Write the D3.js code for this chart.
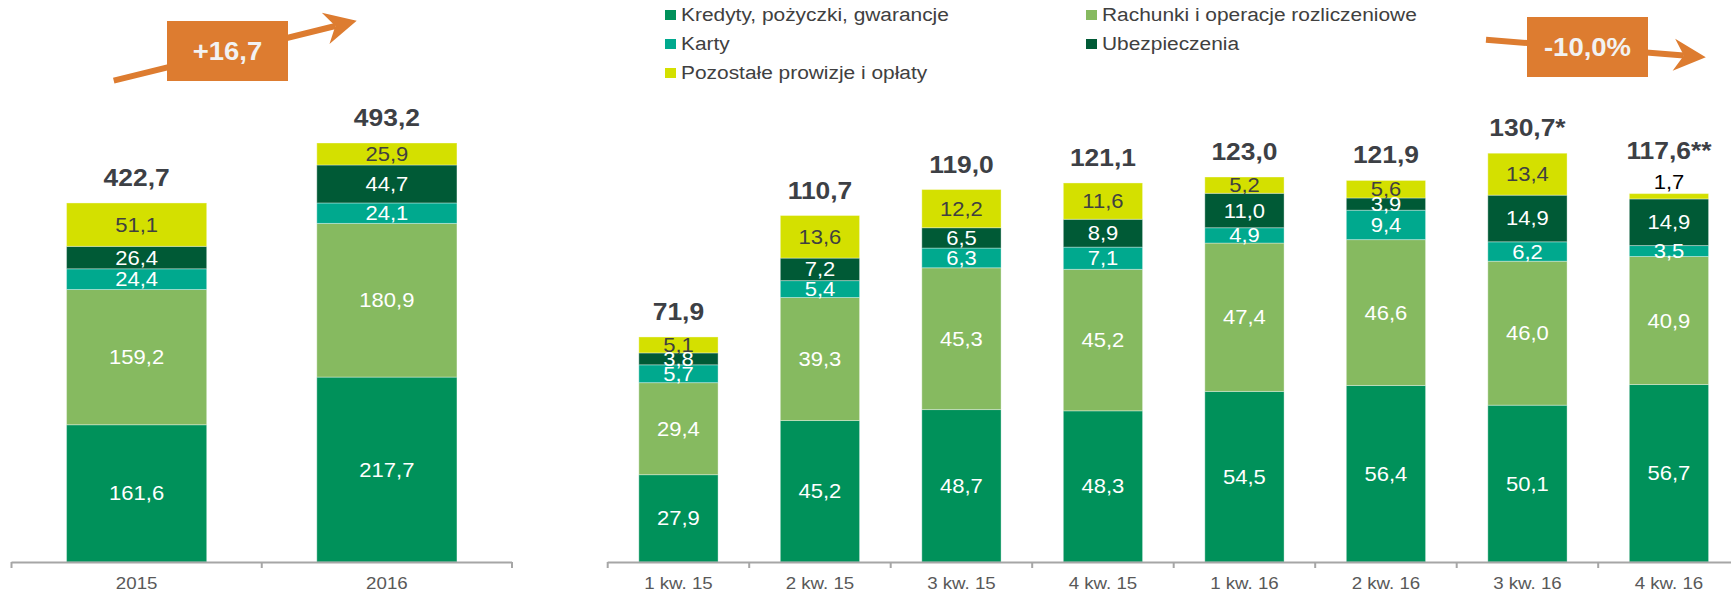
<!DOCTYPE html>
<html>
<head>
<meta charset="utf-8">
<script src="https://cdnjs.cloudflare.com/ajax/libs/d3/7.8.5/d3.min.js"></script>
<style>
body { margin: 0; background: #fff; }
text { font-family: "Liberation Sans", Arial, sans-serif; }
</style>
</head>
<body>
<svg width="1731" height="592"></svg>
<script>
var keys = ["Kredyty, pożyczki, gwarancje", "Rachunki i operacje rozliczeniowe", "Karty", "Ubezpieczenia", "Pozostałe prowizje i opłaty"];
var colors = ["#00915a", "#86ba60", "#00a98e", "#005a36", "#d4e000"];

// roczne
var years = ["2015", "2016"];
var yearKredyty = [161.6, 217.7];
var yearRachunki = [159.2, 180.9];
var yearKarty = [24.4, 24.1];
var yearUbezp = [26.4, 44.7];
var yearPozostale = [51.1, 25.9];
var yearTotals = ["422,7", "493,2"];

// kwartalne
var quarters = ["1 kw. 15", "2 kw. 15", "3 kw. 15", "4 kw. 15", "1 kw. 16", "2 kw. 16", "3 kw. 16", "4 kw. 16"];
var qKredyty = [27.9, 45.2, 48.7, 48.3, 54.5, 56.4, 50.1, 56.7];
var qRachunki = [29.4, 39.3, 45.3, 45.2, 47.4, 46.6, 46.0, 40.9];
var qKarty = [5.7, 5.4, 6.3, 7.1, 4.9, 9.4, 6.2, 3.5];
var qUbezp = [3.8, 7.2, 6.5, 8.9, 11.0, 3.9, 14.9, 14.9];
var qPozostale = [5.1, 13.6, 12.2, 11.6, 5.2, 5.6, 13.4, 1.7];
var qTotals = ["71,9", "110,7", "119,0", "121,1", "123,0", "121,9", "130,7*", "117,6**"];

var STRETCH = 1.1;
var fmt = function(v) { return d3.format(".1f")(v).replace(".", ","); };

var svg = d3.select("svg");

function place(sel, x, y) {
    sel.attr("transform", function(d, i) {
        var xx = typeof x === "function" ? x(d, i) : x;
        var yy = typeof y === "function" ? y(d, i) : y;
        return "translate(" + xx + "," + yy + ") scale(" + STRETCH + ",1)";
    });
}

function drawPanel(cats, values, totals, xRange, y) {
    var x = d3.scaleBand().domain(cats).range(xRange).paddingInner(0.44).paddingOuter(0.22);

    var rows = cats.map(function(c, i) {
        var r = {cat: c, idx: i};
        keys.forEach(function(k, j) { r[k] = values[j][i]; });
        return r;
    });
    var stacked = d3.stack().keys(keys)(rows);

    var g = svg.append("g");

    var layer = g.selectAll("g.layer")
                 .data(stacked)
                 .enter().append("g")
                 .attr("class", "layer")
                 .attr("fill", function(d, i) { return colors[i]; });

    layer.selectAll("rect")
         .data(function(d) { return d; })
         .enter().append("rect")
         .attr("x", function(d) { return x(d.data.cat); })
         .attr("y", function(d) { return y(d[1]); })
         .attr("width", x.bandwidth())
         .attr("height", function(d) { return y(d[0]) - y(d[1]); })
         .attr("stroke", "#fff")
         .attr("stroke-opacity", 0.35)
         .attr("stroke-width", 1);

    // etykiety segmentow
    stacked.forEach(function(s, si) {
        var lab = g.selectAll("text.seg" + si)
                   .data(s)
                   .enter().append("text")
                   .attr("class", "seg" + si)
                   .attr("text-anchor", "middle")
                   .style("font-size", "20px")
                   .attr("fill", function(d) {
                       if (d[1] - d[0] < 2.5) return "#000";
                       return si == 4 ? "#404040" : "#fff";
                   })
                   .text(function(d) { return fmt(d[1] - d[0]); });
        place(lab, function(d) { return x(d.data.cat) + x.bandwidth() / 2; },
              function(d) {
                  if (d[1] - d[0] < 2.5) return y(d[1]) - 5;
                  return (y(d[0]) + y(d[1])) / 2 + 7;
              });
    });

    // sumy
    var top = stacked[stacked.length - 1];
    var tot = g.selectAll("text.total")
               .data(top)
               .enter().append("text")
               .attr("class", "total")
               .attr("text-anchor", "middle")
               .style("font-size", "24px")
               .style("font-weight", "bold")
               .attr("fill", "#3d4045")
               .text(function(d, i) { return totals[i]; });
    place(tot, function(d) { return x(d.data.cat) + x.bandwidth() / 2; },
          function(d) { return y(d[1]) - 17 - (d[1] - d[0] < 2.5 ? 18 : 0); });

    // os X
    g.append("line")
     .attr("x1", xRange[0]).attr("x2", xRange[1])
     .attr("y1", y(0) + 0.5).attr("y2", y(0) + 0.5)
     .attr("stroke", "#a6a6a6").attr("stroke-width", 2);

    g.selectAll("line.tick")
     .data(d3.range(cats.length + 1))
     .enter().append("line")
     .attr("class", "tick")
     .attr("x1", function(i) { return xRange[0] + i * x.step(); })
     .attr("x2", function(i) { return xRange[0] + i * x.step(); })
     .attr("y1", y(0)).attr("y2", y(0) + 6)
     .attr("stroke", "#a6a6a6").attr("stroke-width", 2);

    var axis = g.append("g")
                .attr("transform", "translate(0," + y(0) + ")")
                .call(d3.axisBottom(x).tickSize(0).tickPadding(15));
    axis.select(".domain").remove();
    axis.selectAll("text")
        .style("font-size", "17px")
        .style("font-family", "'Liberation Sans', Arial, sans-serif")
        .attr("fill", "#595959")
        .attr("transform", "scale(" + STRETCH + ",1)");
}

var yLeft = d3.scaleLinear().domain([0, 500]).range([562, 137.3]);
var yRight = d3.scaleLinear().domain([0, 150]).range([562, 92.5]);

drawPanel(years, [yearKredyty, yearRachunki, yearKarty, yearUbezp, yearPozostale], yearTotals, [11.5, 512], yLeft);
drawPanel(quarters, [qKredyty, qRachunki, qKarty, qUbezp, qPozostale], qTotals, [607.7, 1739.7], yRight);

// legenda
var legendPos = [[665, 10], [1086, 10], [665, 39], [1086, 39], [665, 68]];
var legend = svg.append("g").selectAll("g")
                .data(keys)
                .enter().append("g");
legend.append("rect")
      .attr("x", function(d, i) { return legendPos[i][0]; })
      .attr("y", function(d, i) { return legendPos[i][1]; })
      .attr("width", 11).attr("height", 10)
      .attr("fill", function(d, i) { return colors[i]; });
var legText = legend.append("text")
      .style("font-size", "19px")
      .attr("fill", "#404040")
      .text(function(d) { return d; });
place(legText, function(d, i) { return legendPos[i][0] + 16; },
      function(d, i) { return legendPos[i][1] + 10.5; });

// strzalki z dynamika
var orange = "#dd7c30";
function badge(label, box, from, tip) {
    var g = svg.append("g");
    var ang = Math.atan2(tip[1] - from[1], tip[0] - from[0]);
    g.append("line")
     .attr("x1", from[0]).attr("y1", from[1])
     .attr("x2", tip[0] - 22 * Math.cos(ang)).attr("y2", tip[1] - 22 * Math.sin(ang))
     .attr("stroke", orange).attr("stroke-width", 6);
    g.append("polygon")
     .attr("points", "0,0 -32,-16 -22,0 -32,16")
     .attr("transform", "translate(" + tip[0] + "," + tip[1] + ") rotate(" + (ang * 180 / Math.PI) + ")")
     .attr("fill", orange);
    g.append("rect")
     .attr("x", box[0]).attr("y", box[1])
     .attr("width", box[2]).attr("height", box[3])
     .attr("fill", orange);
    var t = g.append("text")
             .attr("text-anchor", "middle")
             .style("font-size", "25px")
             .style("font-weight", "bold")
             .attr("fill", "#f2f2f2")
             .text(label);
    place(t, box[0] + box[2] / 2, box[1] + box[3] / 2 + 9);
}

badge("+16,7", [167, 21, 121, 60], [113.7, 80.7], [356.7, 20.7]);
badge("-10,0%", [1527, 17, 121, 60], [1486, 39.7], [1705.8, 57.3]);
</script>
</body>
</html>
